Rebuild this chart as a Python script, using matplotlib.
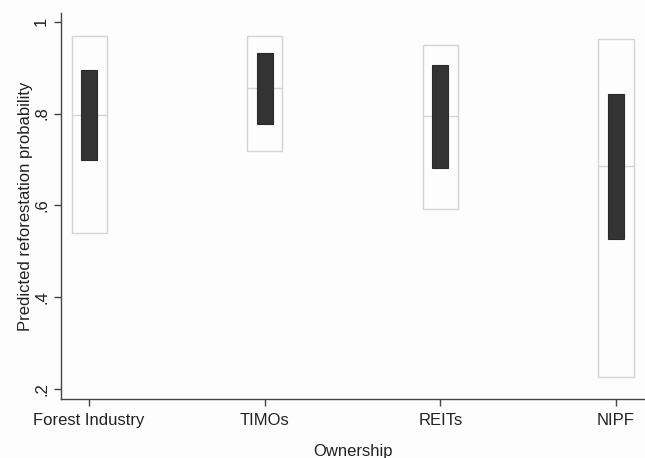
import numpy as np
import matplotlib.pyplot as plt

plt.rcParams['font.family'] = ['Liberation Sans', 'DejaVu Sans']

owners = ['Forest Industry', 'TIMOs', 'REITs', 'NIPF']
# outer range (light box), median, inner range (dark box)
outer_lo = [0.540, 0.719, 0.592, 0.225]
outer_hi = [0.969, 0.970, 0.950, 0.962]
median = [0.797, 0.855, 0.794, 0.686]
inner_lo = [0.699, 0.777, 0.682, 0.527]
inner_hi = [0.895, 0.933, 0.906, 0.842]

x = np.arange(1, len(owners) + 1)
outer_lo = np.array(outer_lo)
outer_hi = np.array(outer_hi)
inner_lo = np.array(inner_lo)
inner_hi = np.array(inner_hi)

fig = plt.figure(figsize=(6.45, 4.58), dpi=100)
fig.patch.set_facecolor('#fdfdfd')
ax = fig.add_axes([0.0946, 0.129, 0.9054, 0.843])
ax.set_facecolor('#fdfdfd')

ow = 0.2
iw = 0.09
ax.bar(x, outer_hi - outer_lo, bottom=outer_lo, width=ow, color='none',
       edgecolor='#d4d4d4', linewidth=1.0, zorder=2)
ax.hlines(median, x - ow / 2, x + ow / 2, color='#d4d4d4', linewidth=1.0, zorder=2)
ax.bar(x, inner_hi - inner_lo, bottom=inner_lo, width=iw, color='#333333',
       edgecolor='#2a2a2a', linewidth=0.8, zorder=3)

ax.set_xlim(0.84, 4.165)
ax.set_ylim(0.178, 1.0196)
ax.set_yticks([0.2, 0.4, 0.6, 0.8, 1.0])
ax.set_yticklabels(['.2', '.4', '.6', '.8', '1'], rotation=90, va='center')
ax.set_xticks(x)
ax.set_xticklabels(owners)

for s in ['top', 'right']:
    ax.spines[s].set_visible(False)
for s in ['left', 'bottom']:
    ax.spines[s].set_color('#444444')
    ax.spines[s].set_linewidth(1.0)
ax.tick_params(axis='both', colors='#444444', labelcolor='#222222',
               labelsize=12, length=5, width=1.0)
ax.tick_params(axis='x', pad=5)

ax.set_xlabel('Ownership', fontsize=12, color='#222222', labelpad=12)
ax.set_ylabel('Predicted reforestation probability', fontsize=12, color='#222222', labelpad=1)

fig.savefig('out.png', dpi=100, facecolor=fig.get_facecolor())
